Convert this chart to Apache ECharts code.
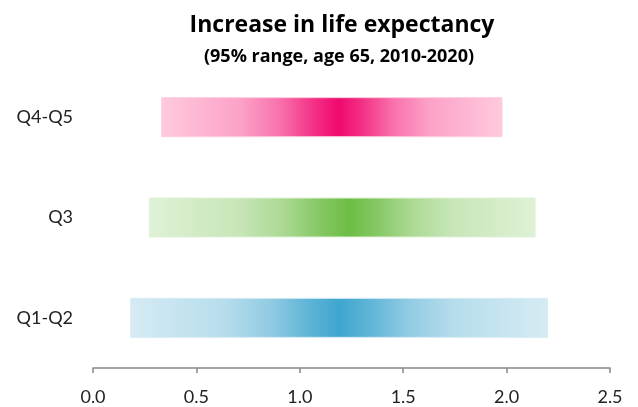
<!DOCTYPE html>
<html>
<head>
<meta charset="utf-8">
<script src="https://cdn.jsdelivr.net/npm/echarts@6/dist/echarts.min.js"></script>
<style>html,body{margin:0;padding:0;background:#fff}#c{width:638px;height:407px}</style>
</head>
<body>
<div id="c"></div>
<script>
// Data
const categories = ['Q1-Q2', 'Q3', 'Q4-Q5'];
const lower = [0.18, 0.27, 0.33];
const upper = [2.20, 2.14, 1.98];
const center = [1.19, 1.24, 1.19];
const xTicks = [0, 0.5, 1.0, 1.5, 2.0, 2.5];

// Styles
const darkColors = ['#3fa6cf', '#6dbd45', '#f0096f'];
const lightColors = ['#d6ebf4', '#dff1d6', '#ffcade'];

const chart = echarts.init(document.getElementById('c'));
const labelFont = 'Lato, "Open Sans", sans-serif';
const titleFont = '"Open Sans", Lato, sans-serif';

const rangeData = categories.map((c, i) => {
  const span = upper[i] - lower[i];
  const p = (center[i] - lower[i]) / span;
  const L = lightColors[i], D = darkColors[i];
  const c1 = echarts.color.lerp(0.46, [L, D]);
  const c2 = echarts.color.lerp(0.21, [L, D]);
  const c0 = echarts.color.lerp(0.8, [L, D]);
  return {
    value: span,
    itemStyle: {
      borderColor: L,
      borderWidth: 1,
      color: new echarts.graphic.LinearGradient(0, 0, 1, 0, [
        { offset: 0, color: L },
        { offset: p * 0.45, color: c2 },
        { offset: p * 0.67, color: c1 },
        { offset: p * 0.86, color: c0 },
        { offset: p, color: D },
        { offset: p + (1 - p) * 0.14, color: c0 },
        { offset: p + (1 - p) * 0.33, color: c1 },
        { offset: p + (1 - p) * 0.55, color: c2 },
        { offset: 1, color: L }
      ])
    }
  };
});

chart.setOption({
  animation: false,
  title: [{
    text: 'Increase in life expectancy',
    left: 337, top: 9, textAlign: 'center',
    textStyle: { fontFamily: titleFont, fontSize: 23, fontWeight: 'bold', color: '#000' }
  }, {
    text: '(95% range, age 65, 2010-2020)',
    left: 334, top: 43, textAlign: 'center',
    textStyle: { fontFamily: titleFont, fontSize: 18, fontWeight: 'bold', color: '#000' }
  }],
  grid: { left: 93, right: 28, top: 67, bottom: 39 },
  xAxis: {
    type: 'value', min: 0, max: 2.5, interval: 0.5,
    axisLine: { show: true, lineStyle: { color: '#888', width: 1.5 } },
    axisTick: { show: true, length: 5, lineStyle: { color: '#888', width: 1.5 } },
    splitLine: { show: false },
    axisLabel: {
      margin: 20, fontFamily: labelFont, fontSize: 18, color: '#222',
      formatter: v => v.toFixed(1)
    }
  },
  yAxis: {
    type: 'category', data: categories,
    axisLine: { show: false }, axisTick: { show: false },
    axisLabel: { margin: 20, fontFamily: labelFont, fontSize: 18, color: '#222' }
  },
  series: [{
    type: 'bar', stack: 'r', data: lower, barWidth: 40, silent: true,
    itemStyle: { color: 'transparent' }
  }, {
    type: 'bar', stack: 'r', data: rangeData, barWidth: 40
  }]
});
</script>
</body>
</html>
